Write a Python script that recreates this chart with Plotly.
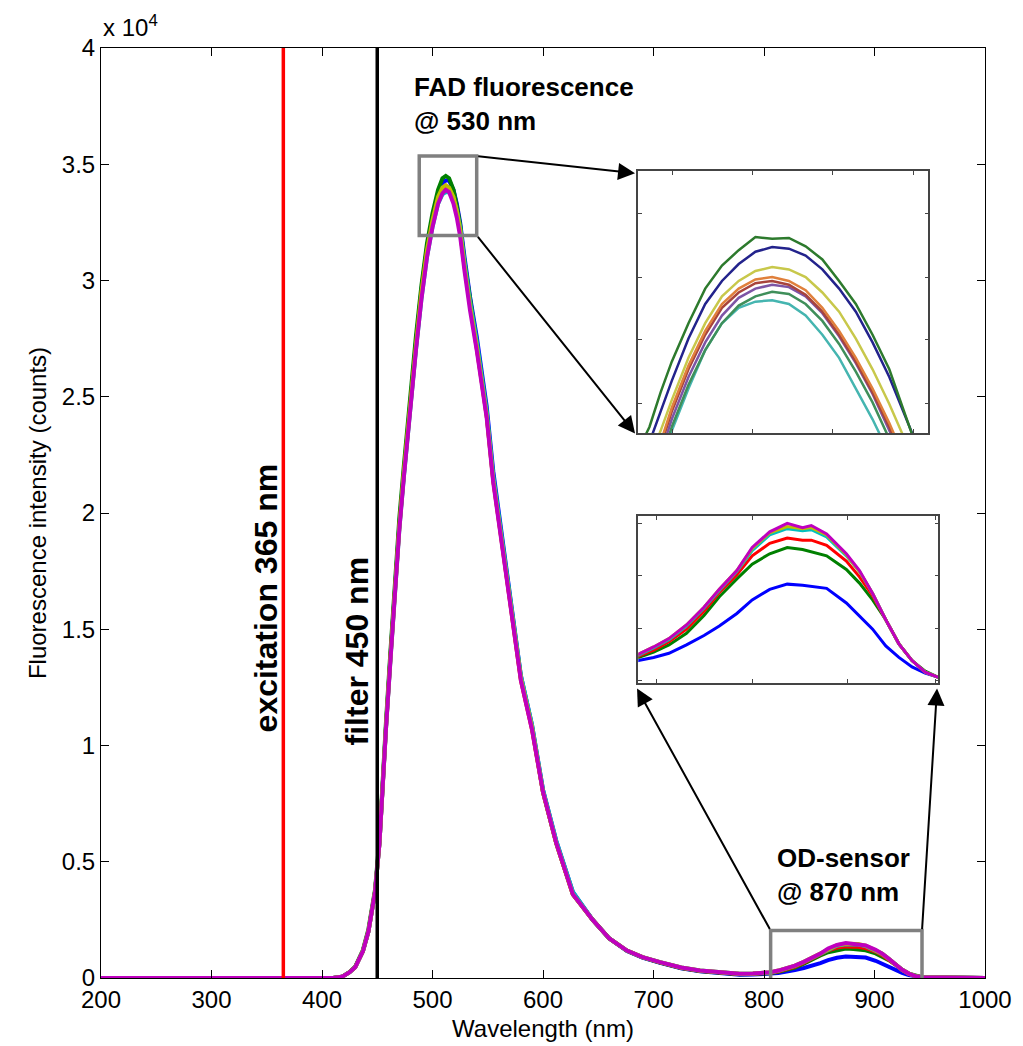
import plotly.graph_objects as go

# ---------------- data (intensity in units of 1e4 counts) ----------------
wl_main = [200, 410, 418, 425, 430, 437, 442, 445, 448, 452,
           455, 458, 462, 466, 470, 474, 479, 485, 490, 495,
           500, 505, 509, 512, 515, 519, 522, 525, 529, 534,
           540, 545, 549, 555, 561, 566, 573, 580, 590, 600,
           612, 627, 645, 660, 676, 690, 706, 725, 742, 760,
           778, 790, 800]
wl_bump = [806, 813, 820, 828, 836, 843, 851, 858, 866, 874, 881,
           885, 892, 901, 907, 913, 919, 925, 931, 937, 943, 1000]

blue_main = [0, 0, 0.005, 0.025, 0.046, 0.115, 0.20, 0.29, 0.37, 0.58,
             0.86, 1.09, 1.39, 1.69, 1.95, 2.17, 2.44, 2.73, 2.96, 3.14,
             3.27, 3.37, 3.42, 3.43, 3.43, 3.39, 3.33, 3.25, 3.10, 2.93,
             2.76, 2.60, 2.46, 2.18, 1.97, 1.80, 1.54, 1.30, 1.09, 0.81,
             0.59, 0.37, 0.25, 0.17, 0.116, 0.088, 0.065, 0.042, 0.029, 0.020,
             0.014, 0.015, 0.016]
green_main = [0, 0, 0.005, 0.026, 0.048, 0.12, 0.21, 0.30, 0.38, 0.60,
              0.88, 1.11, 1.41, 1.72, 1.98, 2.20, 2.47, 2.76, 2.98, 3.16,
              3.29, 3.39, 3.44, 3.45, 3.44, 3.39, 3.32, 3.24, 3.08, 2.91,
              2.73, 2.57, 2.43, 2.15, 1.95, 1.78, 1.52, 1.29, 1.08, 0.80,
              0.58, 0.36, 0.25, 0.17, 0.117, 0.089, 0.066, 0.043, 0.030, 0.022,
              0.016, 0.017, 0.019]
red_main = [0, 0, 0.005, 0.025, 0.046, 0.115, 0.20, 0.29, 0.37, 0.58,
            0.85, 1.08, 1.38, 1.68, 1.94, 2.16, 2.42, 2.71, 2.94, 3.12,
            3.25, 3.35, 3.39, 3.40, 3.39, 3.35, 3.29, 3.21, 3.06, 2.89,
            2.71, 2.55, 2.42, 2.14, 1.94, 1.77, 1.51, 1.28, 1.07, 0.80,
            0.58, 0.36, 0.25, 0.17, 0.118, 0.090, 0.067, 0.044, 0.031, 0.023,
            0.017, 0.018, 0.020]
cyan_main = [0, 0, 0.005, 0.025, 0.046, 0.115, 0.20, 0.29, 0.37, 0.58,
             0.85, 1.08, 1.37, 1.67, 1.93, 2.15, 2.41, 2.70, 2.92, 3.10,
             3.23, 3.33, 3.37, 3.38, 3.38, 3.35, 3.30, 3.23, 3.08, 2.91,
             2.74, 2.58, 2.44, 2.16, 1.96, 1.79, 1.53, 1.30, 1.09, 0.81,
             0.59, 0.37, 0.25, 0.17, 0.118, 0.090, 0.068, 0.045, 0.032, 0.024,
             0.018, 0.019, 0.021]
yellow_main = [0, 0, 0.005, 0.025, 0.046, 0.115, 0.20, 0.29, 0.37, 0.58,
               0.86, 1.09, 1.38, 1.68, 1.94, 2.17, 2.43, 2.72, 2.95, 3.13,
               3.26, 3.36, 3.40, 3.41, 3.40, 3.36, 3.30, 3.22, 3.06, 2.89,
               2.72, 2.56, 2.42, 2.14, 1.94, 1.78, 1.52, 1.29, 1.08, 0.80,
               0.58, 0.36, 0.25, 0.17, 0.118, 0.090, 0.068, 0.045, 0.032, 0.024,
               0.018, 0.019, 0.022]
magenta_main = [0, 0, 0.005, 0.025, 0.046, 0.115, 0.20, 0.29, 0.37, 0.58,
                0.85, 1.08, 1.37, 1.67, 1.93, 2.15, 2.41, 2.70, 2.92, 3.10,
                3.23, 3.33, 3.375, 3.39, 3.38, 3.33, 3.27, 3.19, 3.04, 2.87,
                2.70, 2.54, 2.41, 2.13, 1.93, 1.77, 1.51, 1.28, 1.07, 0.80,
                0.58, 0.36, 0.25, 0.17, 0.118, 0.090, 0.068, 0.045, 0.032, 0.024,
                0.018, 0.019, 0.022]

blue_bump = [0.019, 0.022, 0.026, 0.034, 0.043, 0.052, 0.064, 0.077, 0.087, 0.092, 0.091,
             0.090, 0.088, 0.074, 0.061, 0.049, 0.033, 0.022, 0.013, 0.007, 0.003, 0.0]
green_bump = [0.022, 0.027, 0.034, 0.045, 0.062, 0.080, 0.097, 0.111, 0.121, 0.127, 0.125,
              0.123, 0.119, 0.106, 0.093, 0.077, 0.058, 0.035, 0.019, 0.009, 0.003, 0.0]
red_bump = [0.023, 0.029, 0.037, 0.049, 0.066, 0.084, 0.101, 0.119, 0.131, 0.136, 0.134,
            0.134, 0.129, 0.114, 0.099, 0.081, 0.058, 0.035, 0.019, 0.008, 0.003, 0.0]
cyan_bump = [0.024, 0.031, 0.039, 0.052, 0.069, 0.086, 0.104, 0.124, 0.139, 0.145, 0.143,
             0.144, 0.137, 0.119, 0.104, 0.083, 0.058, 0.035, 0.019, 0.008, 0.003, 0.0]
yellow_bump = [0.025, 0.032, 0.040, 0.053, 0.070, 0.087, 0.105, 0.126, 0.141, 0.147, 0.145,
               0.146, 0.139, 0.120, 0.104, 0.083, 0.058, 0.035, 0.019, 0.008, 0.003, 0.0]
magenta_bump = [0.025, 0.032, 0.040, 0.053, 0.070, 0.087, 0.105, 0.127, 0.142, 0.150, 0.146,
                0.148, 0.140, 0.121, 0.105, 0.083, 0.058, 0.035, 0.019, 0.008, 0.003, 0.0]

# zoomed FAD peak (inset 1), separate curves as drawn in the inset
inset1_wl = [488, 490, 492, 494, 497, 500, 503, 506, 509, 512,
             515, 518, 521, 524, 527, 530, 533, 536, 538, 540]
ins_darkgreen = [3.17, 3.20, 3.245, 3.285, 3.335, 3.38, 3.41, 3.43, 3.447, 3.445,
                 3.446, 3.435, 3.418, 3.39, 3.36, 3.32, 3.275, 3.21, 3.17, 3.13]
ins_navy = [3.15, 3.18, 3.22, 3.26, 3.315, 3.36, 3.39, 3.412, 3.428, 3.434,
            3.432, 3.423, 3.405, 3.38, 3.35, 3.31, 3.265, 3.21, 3.175, 3.14]
ins_olive = [3.12, 3.16, 3.195, 3.235, 3.29, 3.335, 3.37, 3.39, 3.403, 3.408,
             3.405, 3.395, 3.375, 3.35, 3.315, 3.275, 3.23, 3.18, 3.14, 3.10]
ins_orange = [3.10, 3.14, 3.18, 3.225, 3.28, 3.325, 3.36, 3.38, 3.392, 3.395,
              3.39, 3.378, 3.355, 3.325, 3.29, 3.25, 3.205, 3.155, 3.115, 3.075]
ins_brown = [3.095, 3.135, 3.175, 3.22, 3.275, 3.32, 3.355, 3.375, 3.387, 3.39,
             3.385, 3.372, 3.35, 3.32, 3.285, 3.245, 3.20, 3.15, 3.11, 3.07]
ins_purple = [3.085, 3.125, 3.165, 3.21, 3.265, 3.31, 3.345, 3.368, 3.38, 3.385,
              3.382, 3.37, 3.348, 3.318, 3.283, 3.243, 3.198, 3.148, 3.108, 3.068]
ins_green = [3.07, 3.11, 3.155, 3.20, 3.255, 3.30, 3.335, 3.358, 3.37, 3.376,
             3.373, 3.36, 3.338, 3.308, 3.272, 3.232, 3.187, 3.137, 3.097, 3.057]
ins_teal = [3.04, 3.09, 3.14, 3.195, 3.25, 3.30, 3.335, 3.355, 3.363, 3.365,
            3.36, 3.345, 3.32, 3.29, 3.25, 3.21, 3.165, 3.11, 3.07, 3.03]

excitation_nm = 365
filter_nm = 450
fad_box = [488, 540, 3.194, 3.535]
od_box = [806, 943, -0.011, 0.204]

# ---------------- figure ----------------
FONT = "Liberation Sans, Arial, sans-serif"
fig = go.Figure()

wl = wl_main + wl_bump
main_series = [
    ("blue", blue_main, blue_bump, "#0000FF"),
    ("green", green_main, green_bump, "#008000"),
    ("red", red_main, red_bump, "#FF0000"),
    ("cyan", cyan_main, cyan_bump, "#00BFBF"),
    ("yellow", yellow_main, yellow_bump, "#BFBF00"),
    ("magenta", magenta_main, magenta_bump, "#BF00BF"),
]
for name, m, b, c in main_series:
    fig.add_trace(go.Scatter(x=wl, y=m + b, mode="lines", name=name,
                             line=dict(color=c, width=4), xaxis="x", yaxis="y"))

ins1 = [
    (ins_teal, "#45B5B0"), (ins_green, "#3F8F5A"), (ins_purple, "#7D55A5"),
    (ins_brown, "#A8443C"), (ins_orange, "#E0803C"), (ins_olive, "#C8C84B"),
    (ins_navy, "#23238C"), (ins_darkgreen, "#2D7A2D"),
]
for ys, c in ins1:
    fig.add_trace(go.Scatter(x=inset1_wl, y=ys, mode="lines",
                             line=dict(color=c, width=2.5), xaxis="x2", yaxis="y2"))

for name, m, b, c in main_series:
    fig.add_trace(go.Scatter(x=wl, y=m + b, mode="lines",
                             line=dict(color=c, width=3), xaxis="x3", yaxis="y3"))

axis_common = dict(showgrid=False, zeroline=False, showline=True, linecolor="black",
                   linewidth=1, mirror="ticks", ticks="inside", ticklen=8, automargin=False,
                   tickcolor="black", tickfont=dict(family=FONT, size=24, color="black"))
inset_axis = dict(showgrid=False, zeroline=False, showline=True, linecolor="#444444",
                  linewidth=1.5, mirror="ticks", ticks="inside", ticklen=4,
                  tickcolor="#444444", showticklabels=False)

fig.update_layout(
    width=1023, height=1046, autosize=False,
    margin=dict(l=101, r=38, t=48, b=68),
    paper_bgcolor="white", plot_bgcolor="white",
    showlegend=False,
    xaxis=dict(axis_common, range=[200, 1000], tickvals=[200, 300, 400, 500, 600, 700, 800, 900, 1000],
               title=dict(text="Wavelength (nm)", font=dict(family=FONT, size=24, color="black"), standoff=8)),
    yaxis=dict(axis_common, range=[0, 4], tickvals=[0, 0.5, 1, 1.5, 2, 2.5, 3, 3.5, 4],
               ticktext=["0", "0.5", "1", "1.5", "2", "2.5", "3", "3.5", "4"],
               title=dict(text="Fluorescence intensity (counts)", font=dict(family=FONT, size=24, color="black"), standoff=8)),
    xaxis2=dict(inset_axis, domain=[0.6078, 0.9359], anchor="y2", range=[488, 540],
                tickvals=[494.2, 508.5, 522.9, 537.3]),
    yaxis2=dict(inset_axis, domain=[0.5859, 0.8677], anchor="x2", range=[3.192, 3.533],
                tickvals=[3.231, 3.314, 3.395, 3.478]),
    xaxis3=dict(inset_axis, domain=[0.6078, 0.9472], anchor="y3", range=[806, 943],
                tickvals=[814.4, 858.1, 901.7, 941.5]),
    yaxis3=dict(inset_axis, domain=[0.3171, 0.4967], anchor="x3", range=[-0.0025, 0.157],
                tickvals=[0, 0.05, 0.1, 0.15]),
)

# vertical excitation / filter lines
fig.add_shape(type="line", xref="x", yref="y", x0=excitation_nm, x1=excitation_nm, y0=0, y1=4,
              line=dict(color="#FF0000", width=3.5), layer="above")
fig.add_shape(type="line", xref="x", yref="y", x0=filter_nm, x1=filter_nm, y0=0, y1=4,
              line=dict(color="black", width=3.5), layer="above")
# zoom boxes
for bx in (fad_box, od_box):
    fig.add_shape(type="rect", xref="x", yref="y", x0=bx[0], x1=bx[1], y0=bx[2], y1=bx[3],
                  line=dict(color="#808080", width=3.5), layer="above")

# arrows (tip in x/y, tail at box corners)
arrows = [
    (683.3, 3.461, fad_box[1], fad_box[3]),
    (683.3, 2.342, fad_box[1], fad_box[2]),
    (685.1, 1.245, od_box[0], od_box[3]),
    (956.6, 1.245, od_box[1], od_box[3]),
]
for x, y, ax, ay in arrows:
    fig.add_annotation(x=x, y=y, ax=ax, ay=ay, xref="x", yref="y", axref="x", ayref="y",
                       text="", showarrow=True, arrowhead=2, arrowsize=1.7, arrowwidth=2,
                       arrowcolor="black")

bold = dict(family=FONT, size=26, color="black")
fig.add_annotation(x=(412 - 101) / 884, y=(977.5 - 70) / 929.8, xref="paper", yref="paper",
                   text="<b>FAD fluorescence<br>@ 530 nm</b>", showarrow=False,
                   xanchor="left", yanchor="top", align="left", font=bold)
fig.add_annotation(x=(775 - 101) / 884, y=(977.5 - 841) / 929.8, xref="paper", yref="paper",
                   text="<b>OD-sensor<br>@ 870 nm</b>", showarrow=False,
                   xanchor="left", yanchor="top", align="left", font=bold)
fig.add_annotation(x=(266 - 101) / 884, y=(977.5 - 598) / 929.8, xref="paper", yref="paper",
                   text="<b>excitation 365 nm</b>", showarrow=False, textangle=-90,
                   xanchor="center", yanchor="middle", font=dict(family=FONT, size=32, color="black"))
fig.add_annotation(x=(357 - 101) / 884, y=(977.5 - 651) / 929.8, xref="paper", yref="paper",
                   text="<b>filter 450 nm</b>", showarrow=False, textangle=-90,
                   xanchor="center", yanchor="middle", font=dict(family=FONT, size=32, color="black"))
fig.add_annotation(x=0, y=(977.5 - 26) / 929.8, xref="paper", yref="paper",
                   text="x 10<sup>4</sup>", showarrow=False, xanchor="left", yanchor="middle",
                   font=dict(family=FONT, size=24, color="black"))

fig.write_html("out.html")
